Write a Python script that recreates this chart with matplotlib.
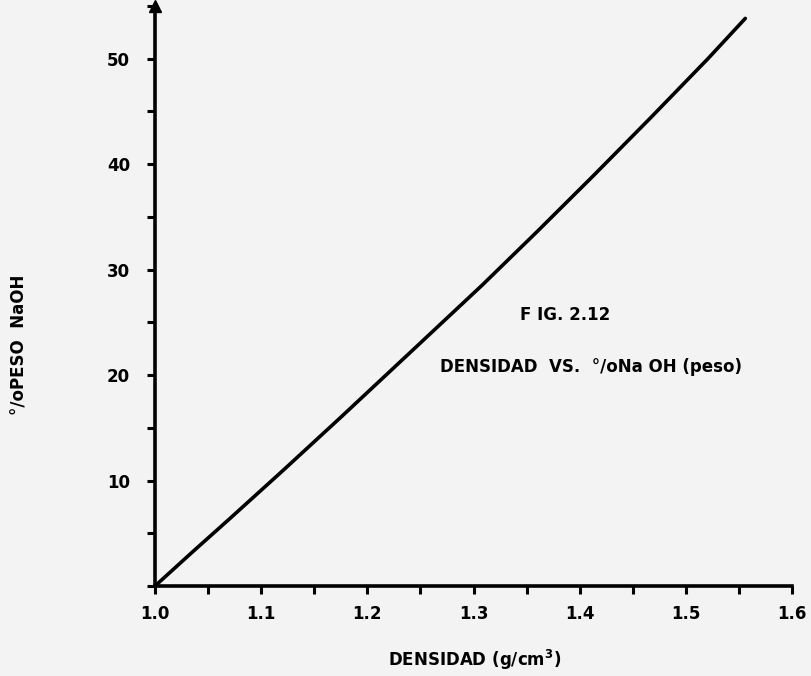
import matplotlib
matplotlib.use("Agg")
import matplotlib.pyplot as plt
from matplotlib.ticker import MultipleLocator

# Data
densidad = [1.000, 1.035, 1.0706, 1.120, 1.174, 1.240, 1.308, 1.360, 1.413, 1.467, 1.521, 1.556]
peso_naoh = [0.0, 3.2, 6.4, 10.9, 15.9, 22.1, 28.5, 33.6, 38.9, 44.4, 50.0, 53.8]

x_ticks = [1.0, 1.1, 1.2, 1.3, 1.4, 1.5, 1.6]
x_ticklabels = ["1.0", "1.1", "1.2", "1.3", "1.4", "1.5", "1.6"]
y_ticks = [10, 20, 30, 40, 50]
y_ticklabels = ["10", "20", "30", "40", "50"]

bg = "#f3f3f3"
fig = plt.figure(figsize=(8.11, 6.76), dpi=100, facecolor=bg)
ax = fig.add_axes([155 / 811, 90 / 676, 637 / 811, 580.25 / 676])
ax.set_facecolor(bg)

ax.plot(densidad, peso_naoh, color="black", lw=2.6, solid_capstyle="round",
        solid_joinstyle="round", clip_on=False)

ax.set_xlim(1.0, 1.6)
ax.set_ylim(0, 55)

for s in ["top", "right"]:
    ax.spines[s].set_visible(False)
for s in ["left", "bottom"]:
    ax.spines[s].set_linewidth(2.6)
    ax.spines[s].set_color("black")

# arrow at top of y-axis
ax.plot([0], [1], marker="^", color="black", markersize=9, transform=ax.transAxes, clip_on=False)

ax.set_xticks(x_ticks)
ax.set_xticklabels(x_ticklabels)
ax.xaxis.set_minor_locator(MultipleLocator(0.05))
ax.set_yticks(y_ticks)
ax.set_yticklabels(y_ticklabels)
ax.yaxis.set_minor_locator(MultipleLocator(5))

ax.tick_params(axis="both", which="both", direction="out", width=2.2, color="black")
ax.tick_params(axis="both", which="major", length=6, labelsize=12)
ax.tick_params(axis="both", which="minor", length=6)
ax.tick_params(axis="x", pad=8)
ax.tick_params(axis="y", pad=12)
for lab in ax.get_xticklabels() + ax.get_yticklabels():
    lab.set_fontweight("bold")

ax.text(1.386, 25.7, "F IG. 2.12", fontsize=12, fontweight="bold", ha="center", va="center")
ax.text(1.268, 20.8, "DENSIDAD  VS.  °/oNa OH (peso)", fontsize=12, fontweight="bold",
        ha="left", va="center")

fig.text(20 / 811, 1 - 345 / 676, "°/oPESO  NaOH", rotation=90, fontsize=12,
         fontweight="bold", ha="center", va="center")
fig.text(475 / 811, 1 - 660 / 676, "DENSIDAD (g/cm$^\\mathbf{3}$)", fontsize=12,
         fontweight="bold", ha="center", va="center")

fig.savefig("out.png", dpi=100, facecolor=bg)
